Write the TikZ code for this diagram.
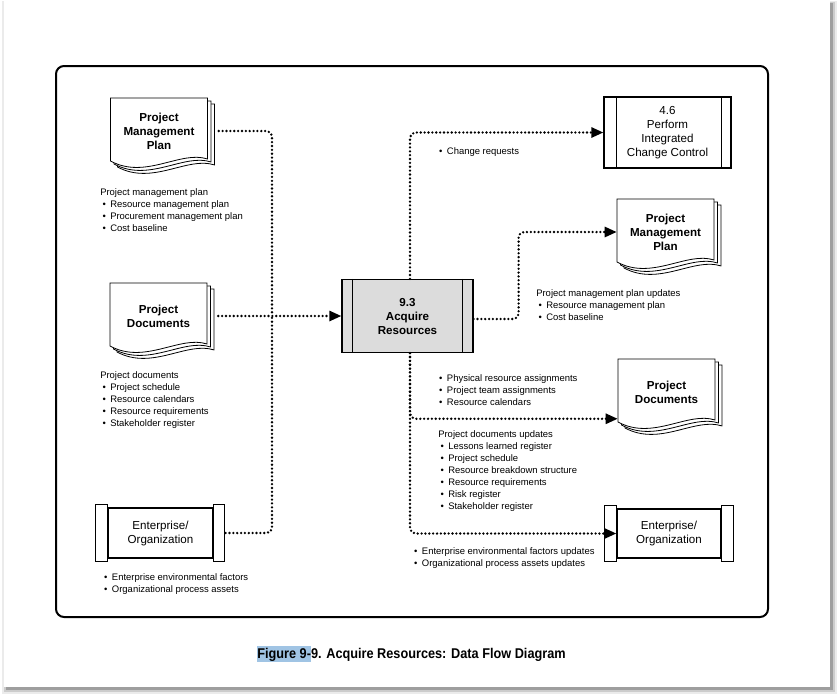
\documentclass[tikz,border=0pt]{standalone}
\usepackage{fontspec}
\setmainfont{Liberation Sans}
\newfontfamily\capfont{Liberation Sans}[FakeStretch=0.9]
\usetikzlibrary{arrows.meta,calc}
\definecolor{boxgray}{RGB}{220,220,220}
\definecolor{hl}{RGB}{160,196,228}
\newcommand\bl{\hspace*{1.7pt}\makebox[5.8pt][l]{\textbullet}}
\newcommand\docpages[2]{%
 \begin{scope}[shift={(#1-48.5,#2-33)}]
  \foreach \o in {7,3.5,0}{
   \filldraw[fill=white,line width=0.6pt] (\o,\o*0.85) -- ++(97,0) -- ++(0,61) .. controls +(-27,-9) and +(35,19) .. ++(-97,2) -- cycle;
  }
 \end{scope}}
\tikzset{
 flow/.style={line width=1.95pt, dash pattern=on 0pt off 2.9pt, line cap=round, rounded corners=4pt},
 tip/.style={-{Triangle[length=9pt,width=7.5pt]}},
 doctext/.style={minimum width=72.75pt, minimum height=47.25pt, inner sep=0pt, align=center, font=\fontsize{8.7}{10.5}\selectfont\bfseries},
 proc/.style={draw, line width=0.9pt, inner sep=0pt, align=center, font=\fontsize{8.7}{10.5}\selectfont},
 side/.style={draw, fill=white, line width=0.9pt},
 lst/.style={anchor=north west, inner sep=0pt, align=left, font=\fontsize{7.1}{9.1}\selectfont},
}
\begin{document}
\begin{tikzpicture}[x=0.75pt,y=-0.75pt]
\useasboundingbox (0,0) rectangle (839,697);
% page with shadow
\fill[black!8] (2,1) rectangle (837,694);
\fill[black!20] (4,2) rectangle (835,692);
\fill[black!38] (6,3) rectangle (833,690);
\fill[white] (4,0) rectangle (830,687);
% frame
\draw[line width=1.5pt, rounded corners=6pt] (56,66) rectangle (768,617);

% documents
\docpages{159}{131}
\node[doctext] (pmpL) at (159,131) {Project\\Management\\Plan};
\docpages{158.5}{316}
\node[doctext] (pdL) at (158.5,316) {Project\\Documents};
\docpages{665.5}{232}
\node[doctext] (pmpR) at (665.5,232) {Project\\Management\\Plan};
\docpages{666.5}{392}
\node[doctext] (pdR) at (666.5,392) {Project\\Documents};

% enterprise boxes
\node[proc, minimum width=78.75pt, minimum height=37.5pt] (entL) at (160.5,533) {Enterprise/\\Organization};
\draw[side] ($(entL.north west)+(-12,-3)$) rectangle ($(entL.south west)+(0,3)$);
\draw[side] ($(entL.north east)+(0,-3)$) rectangle ($(entL.south east)+(11,3)$);
\node[proc, minimum width=78pt, minimum height=36.75pt] (entR) at (669,533.5) {Enterprise/\\Organization};
\draw[side] ($(entR.north west)+(-12,-3)$) rectangle ($(entR.south west)+(0,3)$);
\draw[side] ($(entR.north east)+(0,-3)$) rectangle ($(entR.south east)+(12,3)$);

% process boxes
\node[proc, fill=boxgray, font=\fontsize{8.7}{10.5}\selectfont\bfseries, minimum width=98.25pt, minimum height=54.75pt] (c) at (407.5,316) {9.3\\Acquire\\Resources};
\draw[line width=0.9pt] ($(c.north west)+(11,0)$) -- ($(c.south west)+(11,0)$);
\draw[line width=0.9pt] ($(c.north east)+(-11,0)$) -- ($(c.south east)+(-11,0)$);
\node[proc, minimum width=95.25pt, minimum height=53.25pt] (cc) at (667.5,132.5) {4.6\\Perform\\Integrated\\Change Control};
\draw[line width=0.9pt] ($(cc.north west)+(13,0)$) -- ($(cc.south west)+(13,0)$);
\draw[line width=0.9pt] ($(cc.north east)+(-10,0)$) -- ($(cc.south east)+(-10,0)$);

% connectors
\coordinate (jn) at (272,316);
\draw[flow] ($(pmpL.east)+(11,0)$) -| (jn);
\draw[flow] ($(entL.east)+(12,0)$) -| (jn);
\draw[flow,tip] ($(pdL.east)+(11,0)$) -- (c.west);
\draw[flow,tip] ($(c.north)+(2.5,0)$) |- (cc.west);
\draw[flow,tip] ($(c.east)+(0,3)$) -- ++(45,0) |- (pmpR.west);
\draw[flow,tip] ($(c.south)+(2.5,0)$) |- ($(pdR.south west)+(0,-5)$);
\draw[flow,tip] ($(c.south)+(2.5,0)$) |- (entR.west);

% lists
\node[lst] (l1) at (100,188) {Project management plan\\\bl Resource management plan\\\bl Procurement management plan\\\bl Cost baseline};
\node[lst] (l2) at (100,371) {Project documents\\\bl Project schedule\\\bl Resource calendars\\\bl Resource requirements\\\bl Stakeholder register};
\node[lst] (l3) at (101.7,573) {\bl Enterprise environmental factors\\\bl Organizational process assets};
\node[lst] (l4) at (436.7,147) {\bl Change requests};
\node[lst] (l5) at (536,289) {Project management plan updates\\\bl Resource management plan\\\bl Cost baseline};
\node[lst] (l6) at (436.7,374) {\bl Physical resource assignments\\\bl Project team assignments\\\bl Resource calendars};
\node[lst] (l7) at (438,430) {Project documents updates\\\bl Lessons learned register\\\bl Project schedule\\\bl Resource breakdown structure\\\bl Resource requirements\\\bl Risk register\\\bl Stakeholder register};
\node[lst] (l8) at (411.7,547) {\bl Enterprise environmental factors updates\\\bl Organizational process assets updates};

% caption
\node[inner sep=0pt, font=\capfont\fontsize{10.6}{12}\selectfont\bfseries] (cap) at (411.5,654) {{\setlength{\fboxsep}{0pt}\colorbox{hl}{\rule[-3pt]{0pt}{12.2pt}Figure 9-}}9. Acquire Resources: Data Flow Diagram};
\end{tikzpicture}
\end{document}
